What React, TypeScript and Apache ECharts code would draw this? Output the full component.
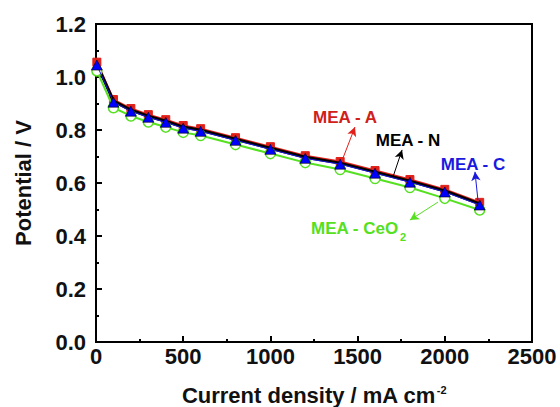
import React, { useEffect, useRef } from "react";
import * as echarts from "echarts";

const currentDensity = [5, 100, 200, 300, 400, 500, 600, 800, 1000, 1200, 1400, 1600, 1800, 2000, 2200];
const meaA = [1.056, 0.915, 0.881, 0.858, 0.839, 0.817, 0.805, 0.771, 0.737, 0.703, 0.681, 0.647, 0.613, 0.576, 0.527];
const meaN = [1.049, 0.909, 0.875, 0.852, 0.833, 0.811, 0.799, 0.765, 0.731, 0.697, 0.675, 0.641, 0.607, 0.570, 0.521];
const meaC = [1.045, 0.905, 0.871, 0.848, 0.829, 0.807, 0.795, 0.761, 0.727, 0.693, 0.671, 0.637, 0.603, 0.566, 0.517];
const meaCeO2 = [1.023, 0.884, 0.853, 0.830, 0.811, 0.791, 0.779, 0.745, 0.711, 0.677, 0.651, 0.617, 0.583, 0.542, 0.498];

const arrowA = [[1405, 0.675], [1485, 0.811]];
const arrowN = [[1703, 0.623], [1755, 0.725]];
const arrowC = [[2190, 0.536], [2173, 0.642]];
const arrowCeO2 = [[1961, 0.528], [1800, 0.46]];

const FONT = '"Liberation Sans", Arial, sans-serif';

function pairs(ys: number[]) {
  return currentDensity.map((x, i) => [x, ys[i]]);
}

function arrow(coords: number[][], color: string) {
  return {
    silent: true,
    symbol: ["none", "arrow"],
    symbolSize: [7, 9],
    label: { show: false },
    lineStyle: { color, width: 1, type: "solid" },
    data: [[{ coord: coords[0] }, { coord: coords[1] }]],
  };
}

export default function App() {
  const ref = useRef<HTMLDivElement>(null);
  useEffect(() => {
    if (!ref.current) return;
    const chart = echarts.init(ref.current, undefined, { renderer: "svg" });
    const labelFont = `bold 17px ${FONT}`;
    chart.setOption({
      animation: false,
      backgroundColor: "#fff",
      grid: {
        left: 96, right: 28, top: 24, bottom: 65, containLabel: false, outerBoundsMode: "none",
        show: true, borderColor: "#000", borderWidth: 2, backgroundColor: "transparent",
      },
      xAxis: {
        type: "value",
        min: 0,
        max: 2500,
        interval: 500,
        name: "Current density / mA cm{sup|-2}",
        nameLocation: "middle",
        nameGap: 42,
        nameTextStyle: {
          fontFamily: FONT, fontWeight: "bold", fontSize: 22, color: "#111",
          rich: { sup: { fontFamily: FONT, fontWeight: "bold", fontSize: 11, verticalAlign: "top", color: "#111", padding: [0, 0, 12, 1] } },
        },
        axisLine: { lineStyle: { color: "#000", width: 2 } },
        axisTick: { inside: true, length: 6, lineStyle: { color: "#000", width: 2 } },
        minorTick: { show: true, splitNumber: 2, length: 3, lineStyle: { color: "#000", width: 2 } },
        splitLine: { show: false },
        axisLabel: { fontFamily: FONT, fontWeight: "bold", fontSize: 22, color: "#111", margin: 3, formatter: (v: number) => String(v) },
      },
      yAxis: {
        type: "value",
        min: 0,
        max: 1.2,
        interval: 0.2,
        name: "Potential / V",
        nameLocation: "middle",
        nameGap: 62,
        nameTextStyle: { fontFamily: FONT, fontWeight: "bold", fontSize: 22, color: "#111" },
        axisLine: { lineStyle: { color: "#000", width: 2 } },
        axisTick: { inside: true, length: 6, lineStyle: { color: "#000", width: 2 } },
        minorTick: { show: true, splitNumber: 2, length: 3, lineStyle: { color: "#000", width: 2 } },
        splitLine: { show: false },
        axisLabel: { fontFamily: FONT, fontWeight: "bold", fontSize: 22, color: "#111", margin: 10, formatter: (v: number) => v.toFixed(1) },
      },
      series: [
        {
          name: "MEA - A", type: "line", data: pairs(meaA), symbol: "rect", symbolSize: 8, z: 2,
          lineStyle: { color: "#e0201a", width: 2 }, itemStyle: { color: "#e0201a", borderColor: "#e0201a" },
          markLine: arrow(arrowA, "#e0201a"),
        },
        {
          name: "MEA - N", type: "line", data: pairs(meaN), symbol: "none", z: 3,
          lineStyle: { color: "#000", width: 3 }, itemStyle: { color: "#000" },
          markLine: arrow(arrowN, "#000"),
        },
        {
          name: "MEA - CeO2", type: "line", data: pairs(meaCeO2), symbol: "circle", symbolSize: 10, z: 4,
          lineStyle: { color: "#55e020", width: 2 }, itemStyle: { color: "#fff", borderColor: "#55e020", borderWidth: 1.5 },
          markLine: arrow(arrowCeO2, "#55e020"),
        },
        {
          name: "MEA - C", type: "line", data: pairs(meaC), symbol: "triangle", symbolSize: [11, 10], z: 10,
          lineStyle: { color: "#1a1adf", width: 1 }, itemStyle: { color: "#0000ff", borderColor: "#000", borderWidth: 0.6 },
          markLine: arrow(arrowC, "#1a1adf"),
        },
      ],
      graphic: [
        { type: "text", x: 345, y: 117, style: { text: "MEA - A", fill: "#d0201a", font: labelFont, textAlign: "center", textVerticalAlign: "middle" } },
        { type: "text", x: 408, y: 140, style: { text: "MEA - N", fill: "#000", font: labelFont, textAlign: "center", textVerticalAlign: "middle" } },
        { type: "text", x: 473, y: 164, style: { text: "MEA - C", fill: "#1a1adf", font: labelFont, textAlign: "center", textVerticalAlign: "middle" } },
        { type: "text", x: 311, y: 228, style: { text: "MEA - CeO", fill: "#55e020", font: labelFont, textAlign: "left", textVerticalAlign: "middle" } },
        { type: "text", x: 400, y: 237, style: { text: "2", fill: "#55e020", font: `bold 11px ${FONT}`, textAlign: "left", textVerticalAlign: "middle" } },
      ],
    });
    return () => chart.dispose();
  }, []);
  return <div ref={ref} style={{ width: 560, height: 407, position: "absolute", left: 0, top: 0 }} />;
}
